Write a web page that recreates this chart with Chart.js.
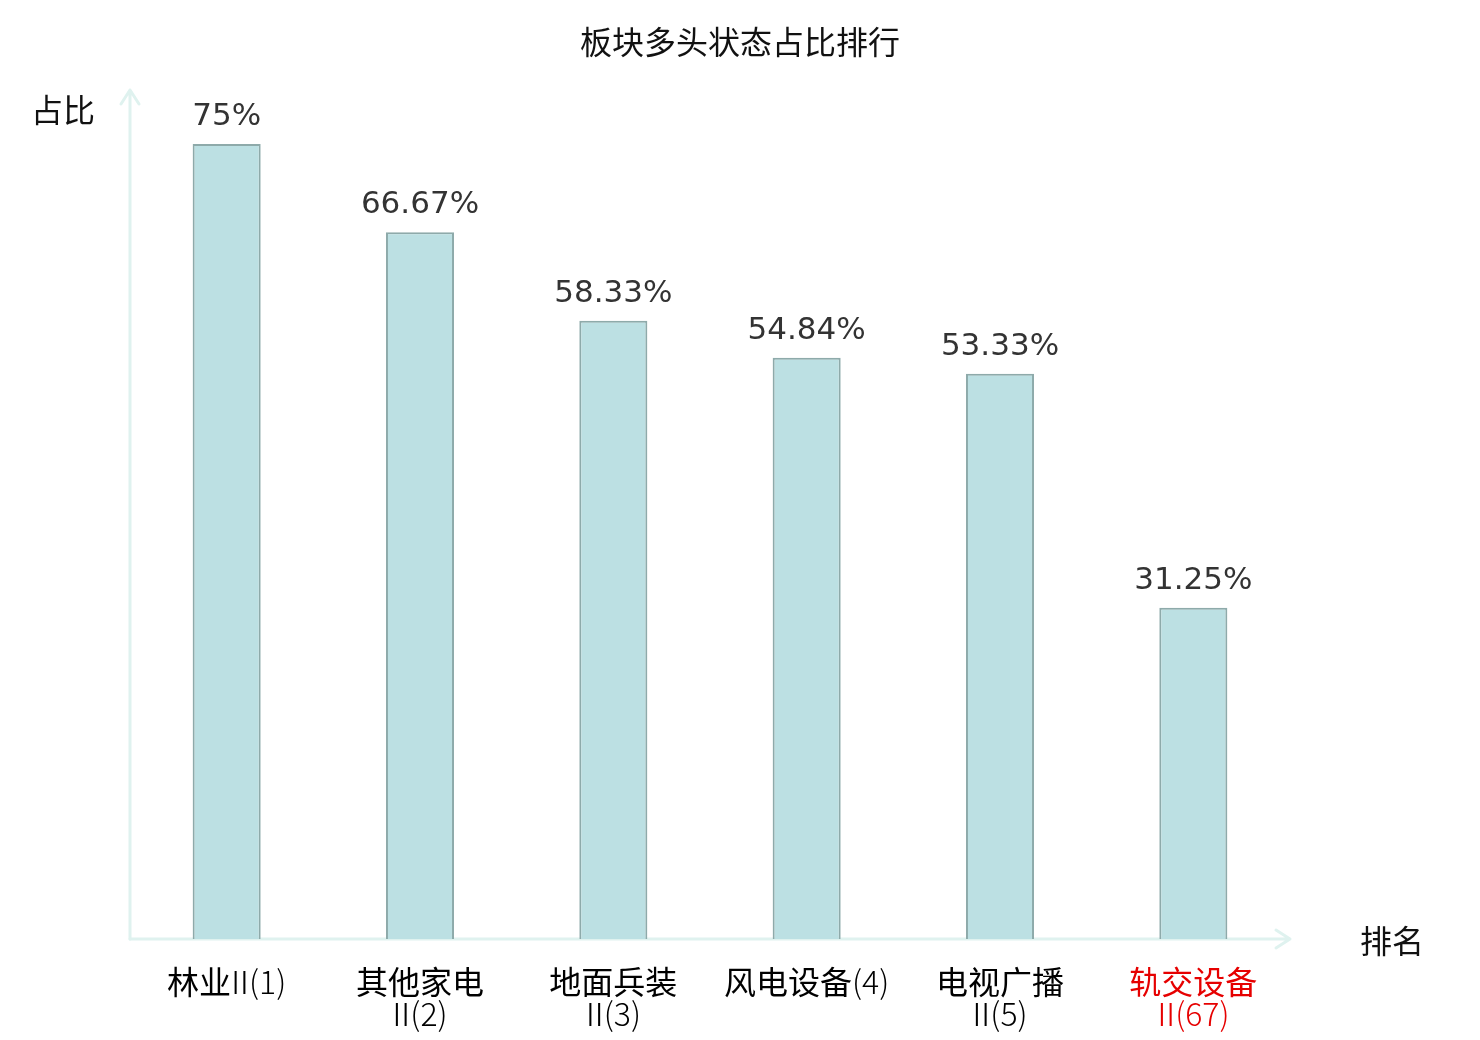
<!DOCTYPE html>
<html>
<head>
<meta charset="utf-8">
<script src="https://cdn.jsdelivr.net/npm/chart.js@4"></script>
<style>
html,body{margin:0;padding:0;background:#fff;}
#wrap{width:1480px;height:1040px;position:relative;}
</style>
</head>
<body>
<div id="wrap"><canvas id="c"></canvas></div>
<script>
const categories = [
  ['林业Ⅱ(1)'],
  ['其他家电', 'Ⅱ(2)'],
  ['地面兵装', 'Ⅱ(3)'],
  ['风电设备(4)'],
  ['电视广播', 'Ⅱ(5)'],
  ['轨交设备', 'Ⅱ(67)']
];
const values = [75, 66.67, 58.33, 54.84, 53.33, 31.25];
const valueLabels = ['75%', '66.67%', '58.33%', '54.84%', '53.33%', '31.25%'];
const labelColors = ['#000', '#000', '#000', '#000', '#000', '#e60000'];
const chartTitle = '板块多头状态占比排行';
const yTitle = '占比';
const xTitle = '排名';

const CJK = '"Noto Sans CJK SC", "Noto Sans", sans-serif';
const NUM = '"DejaVu Sans", sans-serif';
const FONT_REG = '32px ' + CJK;
const FONT_LIGHT = '300 32px "Noto Sans CJK SC", "Noto Sans", sans-serif';

function runs(text) {
  const out = [];
  const re = /[\u4e00-\u9fff]+|\u2161|[^\u4e00-\u9fff\u2161]+/g;
  let m;
  while ((m = re.exec(text))) {
    const t = m[0];
    out.push({ t, font: /[\u4e00-\u9fff]/.test(t) ? FONT_REG : FONT_LIGHT, roman: t === '\u2161' });
  }
  return out;
}

function drawMixed(ctx, text, cx, y) {
  const parts = runs(text);
  let total = 0;
  parts.forEach(p => {
    ctx.font = p.font;
    const w = ctx.measureText(p.t).width;
    p.trim = p.roman ? Math.max(0, w * 0.5 - 2) : 0;
    p.w = w - p.trim;
    total += p.w;
  });
  let x = cx - total / 2;
  ctx.textAlign = 'left';
  parts.forEach(p => {
    ctx.font = p.font;
    ctx.fillText(p.t, x - p.trim / 2, y);
    x += p.w;
  });
}

const decor = {
  id: 'decor',
  beforeDatasetsDraw(chart) {
    const ctx = chart.ctx, a = chart.chartArea;
    ctx.save();
    ctx.strokeStyle = '#dff2ef';
    ctx.lineWidth = 3;
    ctx.lineCap = 'round';
    ctx.lineJoin = 'round';
    ctx.beginPath();
    ctx.moveTo(a.left, a.bottom);
    ctx.lineTo(a.left, a.top - 1);
    ctx.moveTo(a.left - 9, a.top + 13);
    ctx.lineTo(a.left, a.top - 1);
    ctx.lineTo(a.left + 9, a.top + 13);
    ctx.stroke();
    ctx.beginPath();
    ctx.moveTo(a.left, a.bottom);
    ctx.lineTo(a.right, a.bottom);
    ctx.moveTo(a.right - 14, a.bottom - 9);
    ctx.lineTo(a.right, a.bottom);
    ctx.lineTo(a.right - 14, a.bottom + 9);
    ctx.stroke();
    ctx.restore();
  },
  afterDatasetsDraw(chart) {
    const ctx = chart.ctx, a = chart.chartArea;
    const xs = chart.scales.x;
    const meta = chart.getDatasetMeta(0);
    ctx.save();
    ctx.fillStyle = '#111';
    ctx.font = FONT_REG;
    ctx.textAlign = 'center';
    ctx.textBaseline = 'middle';
    ctx.fillText(chartTitle, 740, 42);
    ctx.fillText(yTitle, 63, 110);
    ctx.fillText(xTitle, 1392, 941);
    ctx.font = '31px ' + NUM;
    ctx.fillStyle = '#333';
    ctx.textBaseline = 'alphabetic';
    meta.data.forEach((bar, i) => {
      ctx.fillText(valueLabels[i], bar.x, bar.y - 19);
    });
    ctx.textBaseline = 'middle';
    categories.forEach((lines, i) => {
      const x = xs.getPixelForValue(i);
      ctx.fillStyle = labelColors[i];
      lines.forEach((t, j) => {
        drawMixed(ctx, t, x, a.bottom + 43 + j * 32);
      });
    });
    ctx.restore();
  }
};

new Chart(document.getElementById('c'), {
  type: 'bar',
  data: {
    labels: categories.map(l => l.join('')),
    datasets: [{
      data: values,
      backgroundColor: '#bce0e3',
      borderColor: '#8eaaaa',
      borderWidth: 2,
      categoryPercentage: 1,
      barPercentage: 0.352
    }]
  },
  options: {
    responsive: true,
    maintainAspectRatio: false,
    animation: false,
    devicePixelRatio: 1,
    layout: { padding: { left: 130, right: 190, top: 91, bottom: 101 } },
    plugins: { legend: { display: false }, title: { display: false }, tooltip: { enabled: false } },
    scales: {
      x: { display: false },
      y: { display: false, min: 0, max: 80 }
    }
  },
  plugins: [decor]
});
</script>
</body>
</html>
